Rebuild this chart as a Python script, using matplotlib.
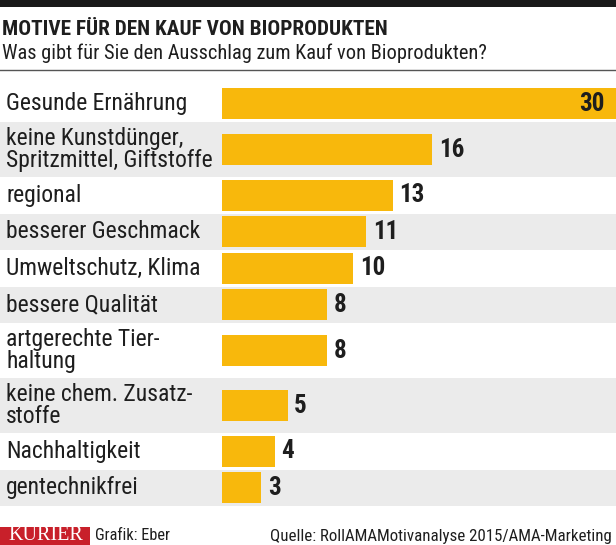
import matplotlib
matplotlib.use("Agg")
import matplotlib.pyplot as plt
import matplotlib.transforms as mtransforms
from matplotlib.patches import Rectangle

# Data
labels = [
    "Gesunde Ernährung",
    "keine Kunstdünger,\nSpritzmittel, Giftstoffe",
    "regional",
    "besserer Geschmack",
    "Umweltschutz, Klima",
    "bessere Qualität",
    "artgerechte Tier-\nhaltung",
    "keine chem. Zusatz-\nstoffe",
    "Nachhaltigkeit",
    "gentechnikfrei",
]
values = [30, 16, 13, 11, 10, 8, 8, 5, 4, 3]

title = "MOTIVE FÜR DEN KAUF VON BIOPRODUKTEN"
subtitle = "Was gibt für Sie den Ausschlag zum Kauf von Bioprodukten?"
credit = "Grafik: Eber"
source = "Quelle: RollAMAMotivanalyse 2015/AMA-Marketing"

W, H = 616, 545
BAR = "#f8b80c"
GRAY = "#ebebeb"
TXT = "#1e1e1e"
COND = ["Roboto Condensed", "Roboto", "DejaVu Sans"]

def fx(px):
    return px / W

def fy(px):
    return 1 - px / H

# row heights depend on the number of label lines
heights = [36.5 + 18.5 * lab.count("\n") for lab in labels]
tops = [sum(heights[:i]) for i in range(len(heights))]
centers = [t + h / 2 for t, h in zip(tops, heights)]
total = sum(heights)

fig = plt.figure(figsize=(W / 100, H / 100), dpi=100)
top_px = 85.5
ax = fig.add_axes([fx(222), fy(top_px + total), fx(W - 222), total / H])
ax.set_xlim(0, 30)
ax.set_ylim(total, 0)
ax.axis("off")

# alternating row backgrounds across full width
tr = mtransforms.blended_transform_factory(fig.transFigure, ax.transData)
for i, (t, h) in enumerate(zip(tops, heights)):
    if i % 2 == 1:
        ax.add_patch(Rectangle((0, t), 1, h, transform=tr, color=GRAY,
                               zorder=0, clip_on=False, lw=0))

ax.barh(centers, values, height=31, color=BAR, zorder=2)

vmax = max(values)
for c, v, lab in zip(centers, values, labels):
    if v == vmax:
        ax.text(v - 0.9, c, str(v), ha="right", va="center", fontsize=18,
                fontweight="bold", color=TXT, family=COND, zorder=3)
    else:
        ax.text(v + 0.5, c, str(v), ha="left", va="center", fontsize=18,
                fontweight="bold", color=TXT, family=COND, zorder=3)
    ax.text(fx(6), c, lab, transform=tr, ha="left", va="center", fontsize=17,
            color=TXT, family=COND, linespacing=0.92, zorder=3)

# header
fig.patches.append(Rectangle((0, fy(7)), 1, 7 / H, transform=fig.transFigure,
                             color="#1a1a1a", lw=0))
fig.text(fx(2), fy(35), title, fontsize=15.3, fontweight="bold", color=TXT,
         family=COND, va="baseline")
fig.text(fx(2), fy(59), subtitle, fontsize=14.7, color=TXT, family=COND,
         va="baseline")
fig.lines.append(plt.Line2D([0, 1], [fy(70), fy(70)], transform=fig.transFigure,
                            color="#555555", lw=1))

# footer
fig.patches.append(Rectangle((0, 0), fx(90), 18 / H, transform=fig.transFigure,
                             color="#c8202a", lw=0))
fig.text(fx(46), fy(536), "KURIER", fontsize=14.5, color="white",
         family="Liberation Serif", ha="center", va="center")
fig.text(fx(95), fy(536), credit, fontsize=11.8, color=TXT, family=COND,
         va="center")
fig.text(fx(612), fy(536), source, fontsize=12.2, color=TXT, family=COND,
         va="center", ha="right")

fig.savefig("out.png", dpi=100)
